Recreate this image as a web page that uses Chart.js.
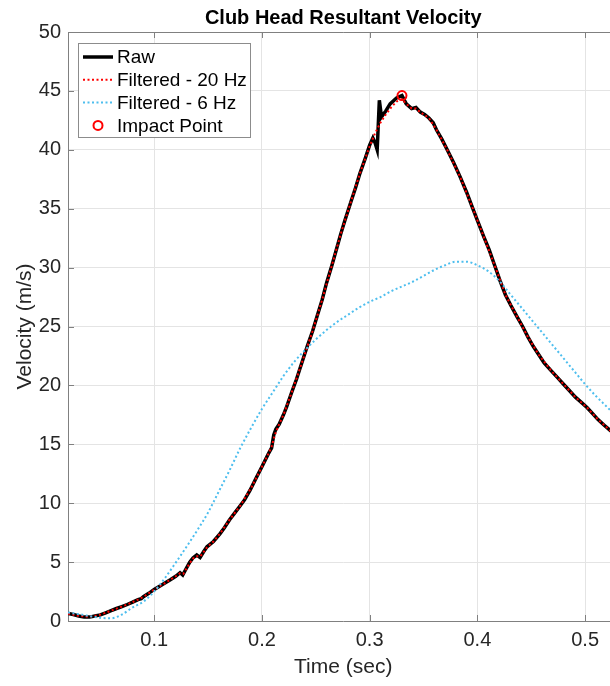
<!DOCTYPE html>
<html>
<head>
<meta charset="utf-8">
<script src="https://cdn.jsdelivr.net/npm/chart.js@4.4.1/dist/chart.umd.min.js"></script>
<style>
  html, body { margin: 0; padding: 0; background: #fff; overflow: hidden; }
  #wrap { width: 610px; height: 686px; overflow: hidden; }
</style>
</head>
<body>
<div id="wrap"><canvas id="velChart" width="625" height="686"></canvas></div>
<script>
// raw resultant velocity (m/s) vs time (sec)
const rawTime = [0.02, 0.025, 0.03, 0.035, 0.04, 0.045, 0.05, 0.055, 0.06, 0.065, 0.07, 0.075, 0.08, 0.085, 0.088, 0.09, 0.095,
  0.1, 0.105, 0.11, 0.115, 0.12, 0.124, 0.1265, 0.13, 0.133, 0.136, 0.1395, 0.1426, 0.146, 0.149, 0.155, 0.161, 0.165, 0.17,
  0.175, 0.18, 0.184, 0.189, 0.195, 0.2, 0.206, 0.209, 0.211, 0.213, 0.216, 0.22, 0.223, 0.228, 0.232, 0.237, 0.242, 0.247,
  0.251, 0.256, 0.26, 0.265, 0.269, 0.273, 0.277, 0.283, 0.287, 0.291, 0.296, 0.3, 0.303, 0.305, 0.307, 0.309, 0.311, 0.315,
  0.319, 0.325, 0.33, 0.334, 0.339, 0.343, 0.347, 0.351, 0.355, 0.359, 0.362, 0.367, 0.372, 0.378, 0.384, 0.39, 0.395, 0.4,
  0.406, 0.411, 0.416, 0.421, 0.426, 0.431, 0.437, 0.442, 0.447, 0.452, 0.457, 0.462, 0.468, 0.474, 0.48, 0.486, 0.491,
  0.496, 0.502, 0.507, 0.512, 0.518, 0.523, 0.531];
const rawVel = [0.65, 0.55, 0.42, 0.33, 0.33, 0.42, 0.52, 0.7, 0.88, 1.06, 1.22, 1.4, 1.6, 1.82, 1.9, 2.06, 2.35,
  2.68, 2.95, 3.22, 3.5, 3.8, 4.1, 3.9, 4.5, 5.0, 5.35, 5.6, 5.4, 5.9, 6.3, 6.75, 7.4, 7.9, 8.6,
  9.2, 9.8, 10.3, 11.1, 12.2, 13.1, 14.2, 14.7, 15.8, 16.3, 16.7, 17.5, 18.2, 19.5, 20.5, 21.9, 23.3, 24.6,
  25.8, 27.3, 28.7, 30.2, 31.5, 32.8, 34.0, 35.7, 36.8, 38.0, 39.3, 40.4, 41.0, 40.6, 40.0, 44.2, 42.8, 43.3,
  43.9, 44.4, 44.6, 43.9, 43.5, 43.6, 43.2, 43.0, 42.7, 42.3, 41.7, 40.9, 40.0, 38.9, 37.7, 36.4, 35.2, 34.0,
  32.6, 31.5, 30.2, 28.9, 27.7, 26.8, 25.8, 25.0, 24.1, 23.3, 22.6, 21.9, 21.3, 20.7, 20.1, 19.5, 19.0,
  18.6, 18.1, 17.6, 17.1, 16.6, 16.2, 15.6];

// low-pass filtered, 20 Hz
const f20Time = [0.02, 0.03, 0.04, 0.05, 0.06, 0.07, 0.08, 0.09, 0.1, 0.11, 0.12, 0.124, 0.127, 0.13, 0.134, 0.137, 0.14,
  0.143, 0.149, 0.155, 0.161, 0.17, 0.18, 0.19, 0.2, 0.206, 0.209, 0.212, 0.216, 0.22, 0.228, 0.237, 0.247, 0.256, 0.265,
  0.273, 0.283, 0.291, 0.3, 0.305, 0.31, 0.315, 0.32, 0.325, 0.33, 0.334, 0.339, 0.343, 0.347, 0.355, 0.362, 0.372, 0.384,
  0.395, 0.406, 0.416, 0.426, 0.437, 0.447, 0.457, 0.468, 0.48, 0.491, 0.502, 0.512, 0.523, 0.531];
const f20Vel = [0.62, 0.43, 0.35, 0.53, 0.88, 1.22, 1.6, 2.05, 2.66, 3.22, 3.8, 4.05, 4.0, 4.45, 5.05, 5.4, 5.5,
  5.5, 6.25, 6.75, 7.4, 8.6, 9.8, 11.3, 13.1, 14.2, 14.8, 15.8, 16.7, 17.5, 19.5, 21.9, 24.6, 27.3, 30.2,
  32.8, 35.7, 38.0, 40.3, 41.4, 42.3, 43.0, 43.6, 44.1, 44.3, 43.9, 43.5, 43.5, 43.2, 42.7, 41.7, 40.0, 37.7,
  35.2, 32.6, 30.2, 27.7, 25.8, 24.1, 22.6, 21.3, 20.1, 19.0, 18.1, 17.1, 16.2, 15.6];

// low-pass filtered, 6 Hz
const f6Time = [0.02, 0.03, 0.04, 0.05, 0.06, 0.07, 0.08, 0.09, 0.1, 0.11, 0.12, 0.13, 0.14, 0.15, 0.16, 0.17, 0.18,
  0.19, 0.2, 0.21, 0.22, 0.23, 0.24, 0.25, 0.26, 0.27, 0.28, 0.29, 0.3, 0.31, 0.32, 0.33, 0.34, 0.35, 0.36, 0.37, 0.38,
  0.39, 0.4, 0.41, 0.42, 0.43, 0.44, 0.45, 0.46, 0.47, 0.48, 0.49, 0.5, 0.51, 0.52, 0.531];
const f6Vel = [0.72, 0.58, 0.42, 0.27, 0.23, 0.55, 1.15, 1.65, 2.5, 3.65, 4.95, 6.3, 7.7, 9.2, 11.0, 12.8, 14.7,
  16.4, 18.0, 19.4, 20.8, 22.0, 23.0, 23.9, 24.7, 25.4, 26.0, 26.6, 27.1, 27.5, 28.0, 28.4, 28.8, 29.3, 29.8, 30.2, 30.5,
  30.5, 30.2, 29.7, 28.9, 27.8, 26.7, 25.6, 24.5, 23.4, 22.3, 21.2, 20.1, 19.1, 18.2, 17.2];

const impactTime = [0.33];
const impactVel = [44.6];

const seriesLabels = ['Raw', 'Filtered - 20 Hz', 'Filtered - 6 Hz', 'Impact Point'];
const xTickStep = 0.1;
const yTickStep = 5;

function pairs(xs, ys) {
  return xs.map((x, i) => ({x: x, y: ys[i]}));
}

const FONT = "'Liberation Sans', Arial, Helvetica, sans-serif";
const AXIS_GREY = '#808080';

// matlab style extras: top box line, inward ticks, boxed legend
const matlabBox = {
  id: 'matlabBox',
  afterDraw(chart) {
    const ctx = chart.ctx;
    const a = chart.chartArea;
    const xs = chart.scales.x, ys = chart.scales.y;
    ctx.save();
    ctx.strokeStyle = AXIS_GREY;
    ctx.lineWidth = 1;
    ctx.beginPath();
    ctx.moveTo(a.left, a.top + 0.5);
    ctx.lineTo(a.right, a.top + 0.5);
    xs.ticks.forEach(t => {
      const px = Math.round(xs.getPixelForValue(t.value)) + 0.5;
      ctx.moveTo(px, a.bottom); ctx.lineTo(px, a.bottom - 6);
      ctx.moveTo(px, a.top); ctx.lineTo(px, a.top + 6);
    });
    ys.ticks.forEach(t => {
      const py = Math.round(ys.getPixelForValue(t.value)) + 0.5;
      ctx.moveTo(a.left, py); ctx.lineTo(a.left + 6, py);
    });
    ctx.stroke();

    // legend
    ctx.fillStyle = '#fff';
    ctx.fillRect(78, 43, 172, 94);
    ctx.strokeStyle = '#8c8c8c';
    ctx.strokeRect(78.5, 43.5, 172, 94);
    ctx.font = '19px ' + FONT;
    ctx.textBaseline = 'middle';
    ctx.textAlign = 'left';
    chart.data.datasets.forEach((ds, i) => {
      const y = 57 + i * 22.8;
      ctx.save();
      ctx.strokeStyle = ds.borderColor;
      if (ds.type === 'scatter') {
        ctx.lineWidth = ds.pointBorderWidth;
        ctx.beginPath();
        ctx.arc(98, y, ds.pointRadius, 0, Math.PI * 2);
        ctx.stroke();
      } else {
        ctx.lineWidth = ds.borderWidth;
        ctx.setLineDash(ds.borderDash || []);
        ctx.beginPath();
        ctx.moveTo(83, y);
        ctx.lineTo(113, y);
        ctx.stroke();
      }
      ctx.restore();
      ctx.fillStyle = '#000';
      ctx.fillText(ds.label, 117, y + 1);
    });
    ctx.restore();
  }
};

new Chart(document.getElementById('velChart'), {
  type: 'line',
  data: {
    datasets: [
      {
        label: seriesLabels[0],
        data: pairs(rawTime, rawVel),
        borderColor: '#000000',
        borderWidth: 3.5,
        pointRadius: 0,
        tension: 0,
        order: 4
      },
      {
        label: seriesLabels[1],
        data: pairs(f20Time, f20Vel),
        borderColor: '#ff0000',
        borderWidth: 2,
        borderDash: [2, 2.5],
        pointRadius: 0,
        tension: 0,
        order: 3
      },
      {
        label: seriesLabels[2],
        data: pairs(f6Time, f6Vel),
        borderColor: '#4dbeee',
        borderWidth: 2,
        borderDash: [2, 2.5],
        pointRadius: 0,
        cubicInterpolationMode: 'monotone',
        order: 2
      },
      {
        type: 'scatter',
        label: seriesLabels[3],
        data: pairs(impactTime, impactVel),
        borderColor: '#ff0000',
        backgroundColor: 'rgba(0,0,0,0)',
        pointRadius: 4.5,
        pointBorderWidth: 2,
        order: 1
      }
    ]
  },
  options: {
    responsive: false,
    animation: false,
    events: [],
    layout: { padding: 0 },
    plugins: {
      legend: { display: false },
      tooltip: { enabled: false },
      title: {
        display: true,
        text: 'Club Head Resultant Velocity',
        fullSize: false,
        color: '#000',
        font: { family: FONT, size: 20, weight: 'bold', lineHeight: 1.2 },
        padding: { top: 6, bottom: 2 }
      }
    },
    scales: {
      x: {
        type: 'linear',
        min: 0.02,
        max: 0.531,
        afterFit(s) { s.height = 65; },
        ticks: {
          stepSize: xTickStep,
          includeBounds: false,
          padding: 7,
          color: '#262626',
          font: { family: FONT, size: 20 },
          callback: v => v.toFixed(1)
        },
        grid: { color: '#e4e4e4', drawTicks: false },
        border: { color: AXIS_GREY, width: 1 },
        title: {
          display: true,
          text: 'Time (sec)',
          color: '#262626',
          font: { family: FONT, size: 21, lineHeight: 1.2 },
          padding: { top: 0, bottom: 6 }
        }
      },
      y: {
        min: 0,
        max: 50,
        afterFit(s) { s.width = 68; },
        ticks: {
          stepSize: yTickStep,
          padding: 7,
          color: '#262626',
          font: { family: FONT, size: 20 }
        },
        grid: { color: '#e4e4e4', drawTicks: false },
        border: { color: AXIS_GREY, width: 1 },
        title: {
          display: true,
          text: 'Velocity (m/s)',
          color: '#262626',
          font: { family: FONT, size: 21, lineHeight: 1.2 },
          padding: { top: 13, bottom: 0 }
        }
      }
    }
  },
  plugins: [matlabBox]
});
</script>
</body>
</html>
